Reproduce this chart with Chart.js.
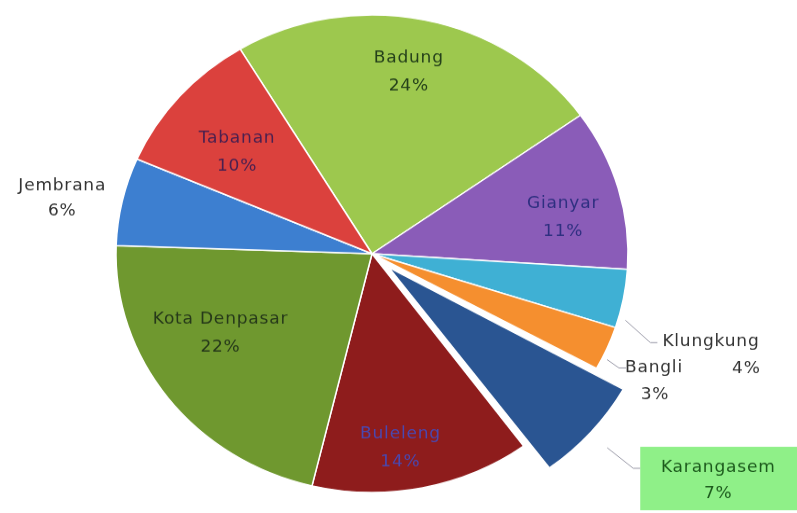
<!DOCTYPE html>
<html>
<head>
<meta charset="utf-8">
<script src="https://cdn.jsdelivr.net/npm/chart.js@4"></script>
<style>
    html, body { margin: 0; padding: 0; background: #fff; overflow: hidden; }
</style>
</head>
<body>
<!-- drawn 797x550 and shown at 797x513: the reference pie is slightly squashed -->
<canvas id="pieChart" width="797" height="550" style="width:797px;height:513px;display:block"></canvas>
<script>
// data (percent of total)
const regions = ['Badung', 'Gianyar', 'Klungkung', 'Bangli', 'Karangasem', 'Buleleng', 'Kota Denpasar', 'Jembrana', 'Tabanan'];
const shares = [24, 11, 4, 3, 7, 14, 22, 6, 10];
const sliceColors = ['#9dc84e', '#8a5cb8', '#3fb0d4', '#f58f2f', '#2a5592', '#8e1c1c', '#6f982f', '#3d7fd0', '#db413d'];
// Chart.js moves an arc by offset/4 px
const explode = [0, 0, 0, 0, 88, 0, 0, 0, 0];

// label style per slice: inside labels sit at a fraction of the radius (plus a nudge),
// outside labels hang off the slice's outer edge (dx, dy from that point)
const labelStyle = [
    { inside: true, r: 0.78, nudge: [-4, 0], color: '#24401a' },
    { inside: true, r: 0.76, nudge: [4, 14], color: '#2e2f80' },
    { inside: false, color: '#333', lead: [[2, 23], [27, 47]], lines: [[39, 46, 'left', 0], [123, 75, 'center', 1]] },
    { inside: false, color: '#333', lead: [[0, 12], [12, 21]], lines: [[18, 21, 'left', 0], [48, 50, 'center', 1]] },
    { inside: false, color: '#1c5a1c', box: '#8ff088', lead: [[26, 25], [52, 47]], lines: [[137, 47, 'center', 0], [137, 75, 'center', 1]] },
    { inside: true, r: 0.8, nudge: [-12, 7], color: '#4a48b0' },
    { inside: true, r: 0.66, nudge: [-17, -18], color: '#26391a' },
    { inside: false, color: '#333', lines: [[-60, -16, 'center', 0], [-60, 11, 'center', 1]] },
    { inside: true, r: 0.69, nudge: [-2, 7], color: '#4a2050' }
];

const pieLabels = {
    id: 'pieLabels',
    afterDatasetsDraw(chart) {
        const ctx = chart.ctx;
        const meta = chart.getDatasetMeta(0);
        ctx.save();
        ctx.font = '17px "DejaVu Sans"';
        ctx.letterSpacing = '0.8px';
        ctx.textBaseline = 'middle';
        meta.data.forEach((arc, i) => {
            const p = arc.getProps(['x', 'y', 'startAngle', 'endAngle', 'outerRadius'], true);
            const mid = (p.startAngle + p.endAngle) / 2;
            const st = labelStyle[i];
            const pct = shares[i] + '%';
            if (st.inside) {
                const rr = p.outerRadius * st.r;
                const lx = p.x + Math.cos(mid) * rr + st.nudge[0];
                const ly = p.y + Math.sin(mid) * rr + st.nudge[1];
                ctx.fillStyle = st.color;
                ctx.textAlign = 'center';
                ctx.fillText(regions[i], lx, ly - 14);
                ctx.fillText(pct, lx, ly + 16);
                return;
            }
            const ro = p.outerRadius + explode[i] / 4;
            const ax = p.x + Math.cos(mid) * ro;
            const ay = p.y + Math.sin(mid) * ro;
            if (st.box) {
                ctx.fillStyle = st.box;
                ctx.fillRect(ax + 59, ay + 24, chart.width - ax - 59, 68);
            }
            if (st.lead) {
                ctx.strokeStyle = '#9a9aa8';
                ctx.lineWidth = 1;
                ctx.beginPath();
                ctx.moveTo(ax + st.lead[0][0], ay + st.lead[0][1]);
                ctx.lineTo(ax + st.lead[1][0], ay + st.lead[1][1]);
                ctx.lineTo(ax + st.lead[1][0] + 7, ay + st.lead[1][1]);
                ctx.stroke();
            }
            ctx.fillStyle = st.color;
            st.lines.forEach(l => {
                ctx.textAlign = l[2];
                ctx.fillText(l[3] === 0 ? regions[i] : pct, ax + l[0], ay + l[1]);
            });
        });
        ctx.restore();
    }
};

new Chart(document.getElementById('pieChart'), {
    type: 'pie',
    data: {
        labels: regions,
        datasets: [{
            data: shares,
            backgroundColor: sliceColors,
            borderColor: '#ffffff',
            borderWidth: 1.5,
            offset: explode,
            clip: false
        }]
    },
    options: {
        responsive: false,
        animation: false,
        rotation: -31,
        radius: 256,
        layout: {
            padding: { left: 0, right: 53, top: 0, bottom: 6 }
        },
        plugins: {
            legend: { display: false },
            tooltip: { enabled: false }
        }
    },
    plugins: [pieLabels]
});
</script>
</body>
</html>
